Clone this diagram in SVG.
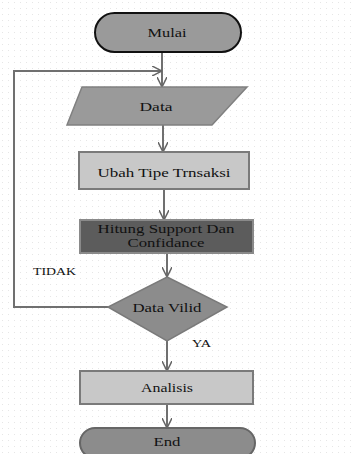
<svg xmlns="http://www.w3.org/2000/svg" width="354" height="454" viewBox="0 0 354 454">
<defs>
<pattern id="dots" width="6" height="6" patternUnits="userSpaceOnUse"><rect x="2" y="2" width="1" height="1" fill="#e6e6e6"/></pattern>
<marker id="arr" viewBox="0 0 10 10" refX="10" refY="5" markerWidth="10" markerHeight="10" markerUnits="userSpaceOnUse" orient="auto"><path d="M0,0 L10,5 L0,10" fill="none" stroke="#666" stroke-width="1.5"/></marker>
</defs>
<style>
text{font-family:"Liberation Serif","Times New Roman",serif;font-size:13px;fill:#111;text-anchor:middle}
.c{fill:none;stroke:#707070;stroke-width:2;marker-end:url(#arr)}
</style>
<rect width="354" height="454" fill="#fff"/>
<rect width="354" height="454" fill="url(#dots)"/>
<g id="connectors">
<path class="c" d="M162,52 V87"/>
<path class="c" d="M108,307 H14 V71 H162"/>
<path class="c" d="M163,125 V152"/>
<path class="c" d="M164,189 V220"/>
<path class="c" d="M167,253 V277"/>
<path class="c" d="M167,341 V371"/>
<path class="c" d="M167,404 V428"/>
</g>
<g id="mulai">
<rect x="95" y="13" width="146" height="39" rx="19.5" fill="#9a9a9a" stroke="#111" stroke-width="2"/>
<text x="167" y="37" textLength="39" lengthAdjust="spacingAndGlyphs">Mulai</text>
</g>
<g id="data">
<polygon points="82,87 247,87 212,125 67,125" fill="#9a9a9a" stroke="#808080" stroke-width="1.5"/>
<text x="156" y="111" textLength="33" lengthAdjust="spacingAndGlyphs">Data</text>
</g>
<g id="ubah">
<rect x="79" y="152" width="170" height="37" fill="#c8c8c8" stroke="#7a7a7a" stroke-width="2"/>
<text x="164" y="177" textLength="133" lengthAdjust="spacingAndGlyphs">Ubah Tipe Trnsaksi</text>
</g>
<g id="hitung">
<rect x="80" y="220" width="173" height="33" fill="#5c5c5c" stroke="#8a8a8a" stroke-width="2"/>
<text x="166" y="233" textLength="137" lengthAdjust="spacingAndGlyphs" style="font-size:12px">Hitung Support Dan</text>
<text x="166" y="247" textLength="77" lengthAdjust="spacingAndGlyphs" style="font-size:12px">Confidance</text>
</g>
<g id="valid">
<polygon points="167,277 227,307 167,341 108,307" fill="#8c8c8c" stroke="#7a7a7a" stroke-width="1.5"/>
<text x="167" y="312" textLength="69" lengthAdjust="spacingAndGlyphs">Data Vilid</text>
</g>
<g id="analisis">
<rect x="80" y="371" width="173" height="33" fill="#c8c8c8" stroke="#7a7a7a" stroke-width="2"/>
<text x="167" y="392" textLength="52" lengthAdjust="spacingAndGlyphs">Analisis</text>
</g>
<g id="end">
<rect x="80" y="428" width="175" height="30" rx="15" fill="#8c8c8c" stroke="#666" stroke-width="2"/>
<text x="167" y="446" textLength="27" lengthAdjust="spacingAndGlyphs">End</text>
</g>
<g id="labels">
<text x="54.5" y="275" textLength="43" lengthAdjust="spacingAndGlyphs" style="font-size:11px">TIDAK</text>
<text x="201.5" y="347" textLength="19" lengthAdjust="spacingAndGlyphs" style="font-size:11px">YA</text>
</g>
</svg>
